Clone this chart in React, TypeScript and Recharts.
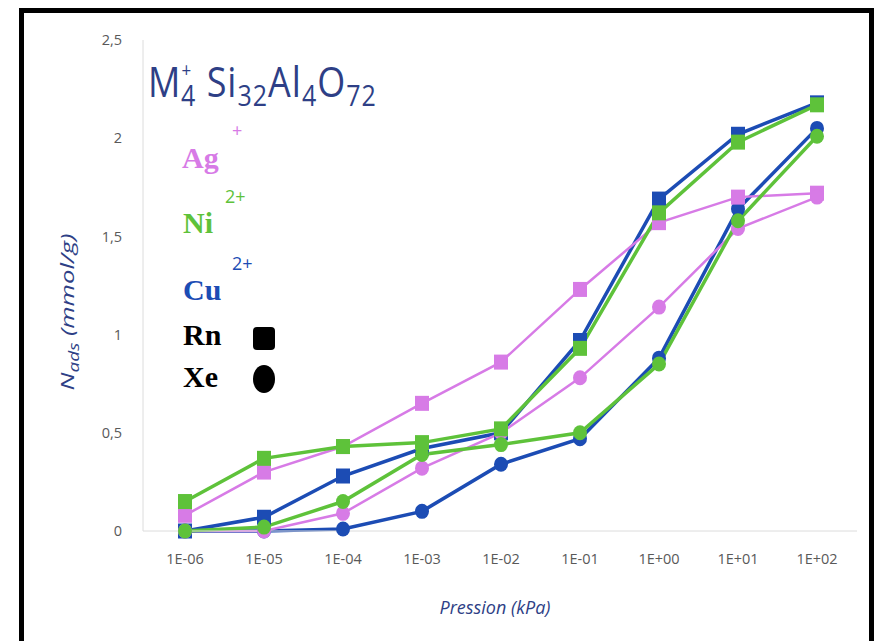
import React from "react";
import { LineChart, Line, XAxis, YAxis } from "recharts";

// pressure steps (kPa), log scale shown as categories
const pressures = ["1E-06", "1E-05", "1E-04", "1E-03", "1E-02", "1E-01", "1E+00", "1E+01", "1E+02"];

// N_ads (mmol/g)
const agRn = [0.08, 0.3, 0.43, 0.65, 0.86, 1.23, 1.57, 1.7, 1.72];
const agXe = [0, 0, 0.09, 0.32, 0.5, 0.78, 1.14, 1.54, 1.7];
const niRn = [0.15, 0.37, 0.43, 0.45, 0.52, 0.93, 1.62, 1.98, 2.17];
const niXe = [0, 0.02, 0.15, 0.39, 0.44, 0.5, 0.85, 1.58, 2.01];
const cuRn = [0, 0.07, 0.28, 0.42, 0.5, 0.97, 1.69, 2.02, 2.18];
const cuXe = [0, 0, 0.01, 0.1, 0.34, 0.47, 0.88, 1.64, 2.05];

const yTicks = [0, 0.5, 1, 1.5, 2, 2.5];

const data = pressures.map((p, i) => ({
  p,
  agRn: agRn[i],
  agXe: agXe[i],
  niRn: niRn[i],
  niXe: niXe[i],
  cuRn: cuRn[i],
  cuXe: cuXe[i],
}));

const PINK = "#D77BE6";
const GREEN = "#5EC23A";
const BLUE = "#1C4CB4";
const NAVY = "#2E3F86";
const FRAME = "#DCDCDC";

const squareDot = (color: string, w: number, h: number) => (props: any) => {
  const { cx, cy, index } = props;
  if (cx == null || cy == null) return <g key={index} />;
  return <rect key={index} x={cx - w / 2} y={cy - h / 2} width={w} height={h} fill={color} />;
};

const roundDot = (color: string, rx: number, ry: number) => (props: any) => {
  const { cx, cy, index } = props;
  if (cx == null || cy == null) return <g key={index} />;
  return <ellipse key={index} cx={cx} cy={cy} rx={rx} ry={ry} fill={color} />;
};

const tickStyle = { fill: "#595959", fontSize: 14.5, fontFamily: "Open Sans" };

export default function App() {
  return (
    <div style={{ position: "absolute", left: 0, top: 0, width: 875, height: 641, background: "#fff", overflow: "hidden" }}>
      <div
        style={{
          position: "absolute",
          left: 19,
          top: 8,
          width: 855,
          height: 700,
          border: "5px solid #000",
          boxSizing: "border-box",
        }}
      />
      <div style={{ position: "absolute", left: 0, top: 0 }}>
        <LineChart width={875} height={641} data={data} margin={{ top: 40, right: 18, bottom: 80, left: 83 }}>
          <XAxis
            dataKey="p"
            interval={0}
            padding={{ left: 42, right: 40 }}
            axisLine={{ stroke: FRAME }}
            tickLine={false}
            tickSize={0}
            tickMargin={23}
            height={30}
            tick={tickStyle}
          />
          <XAxis xAxisId="top" dataKey="p" orientation="top" height={0} axisLine={{ stroke: FRAME }} tick={false} tickLine={false} />
          <YAxis
            domain={[0, 2.5]}
            ticks={yTicks}
            width={60}
            axisLine={{ stroke: FRAME }}
            tickLine={false}
            tickSize={0}
            tickMargin={21}
            tick={tickStyle}
            tickFormatter={(v: number) => String(v).replace(".", ",")}
          />
          <YAxis yAxisId="right" orientation="right" domain={[0, 2.5]} width={0} axisLine={{ stroke: FRAME }} tick={false} tickLine={false} />
          <Line dataKey="cuRn" stroke={BLUE} strokeWidth={3.5} dot={squareDot(BLUE, 14, 15)} isAnimationActive={false} />
          <Line dataKey="cuXe" stroke={BLUE} strokeWidth={3.5} dot={roundDot(BLUE, 7, 7.5)} isAnimationActive={false} />
          <Line dataKey="agRn" stroke={PINK} strokeWidth={2.5} dot={squareDot(PINK, 14, 15)} isAnimationActive={false} />
          <Line dataKey="agXe" stroke={PINK} strokeWidth={2.5} dot={roundDot(PINK, 7, 7.5)} isAnimationActive={false} />
          <Line dataKey="niRn" stroke={GREEN} strokeWidth={3.5} dot={squareDot(GREEN, 14, 15)} isAnimationActive={false} />
          <Line dataKey="niXe" stroke={GREEN} strokeWidth={3.5} dot={roundDot(GREEN, 7, 7.5)} isAnimationActive={false} />
        </LineChart>
      </div>
      <svg width={875} height={641} style={{ position: "absolute", left: 0, top: 0, pointerEvents: "none" }}>
        {/* formula title */}
        <text transform="translate(148,97) scale(1,1.15)" fill={NAVY} fontFamily="Open Sans" fontSize={36} letterSpacing={1}>
          M
          <tspan dy={-17} fontSize={17}>+</tspan>
          <tspan x={33} dy={25} fontSize={25}>4</tspan>
          <tspan dy={-8}> Si</tspan>
          <tspan dy={8} fontSize={25}>32</tspan>
          <tspan dy={-8}>Al</tspan>
          <tspan dy={8} fontSize={25}>4</tspan>
          <tspan dy={-8}>O</tspan>
          <tspan dy={8} fontSize={25}>72</tspan>
        </text>
        {/* legend */}
        <g fontFamily="Liberation Serif" fontWeight="bold" fontSize={30}>
          <text x={182} y={168} fill={PINK}>Ag</text>
          <text x={183} y={233} fill={GREEN}>Ni</text>
          <text x={183} y={300} fill={BLUE}>Cu</text>
          <text x={183} y={345} fill="#000">Rn</text>
          <text x={183} y={387} fill="#000">Xe</text>
        </g>
        <g fontFamily="Open Sans" fontSize={18}>
          <text x={232} y={137} fill={PINK}>+</text>
          <text x={225} y={203} fill={GREEN}>2+</text>
          <text x={232} y={270} fill={BLUE}>2+</text>
        </g>
        <rect x={253} y={327} width={22} height={23} rx={4} fill="#000" />
        <ellipse cx={264} cy={379} rx={11} ry={14} fill="#000" />
        {/* axis titles */}
        <text x={495} y={614} textAnchor="middle" fill={NAVY} fontFamily="Open Sans" fontStyle="italic" fontSize={18}>
          Pression (kPa)
        </text>
        <text
          transform="translate(74,312) scale(1,1.35) rotate(-90)"
          textAnchor="middle"
          fill={NAVY}
          fontFamily="Open Sans"
          fontStyle="italic"
          fontSize={19}
        >
          N<tspan dy={5} fontSize={14}>ads</tspan>
          <tspan dy={-5}> (mmol/g)</tspan>
        </text>
      </svg>
    </div>
  );
}
